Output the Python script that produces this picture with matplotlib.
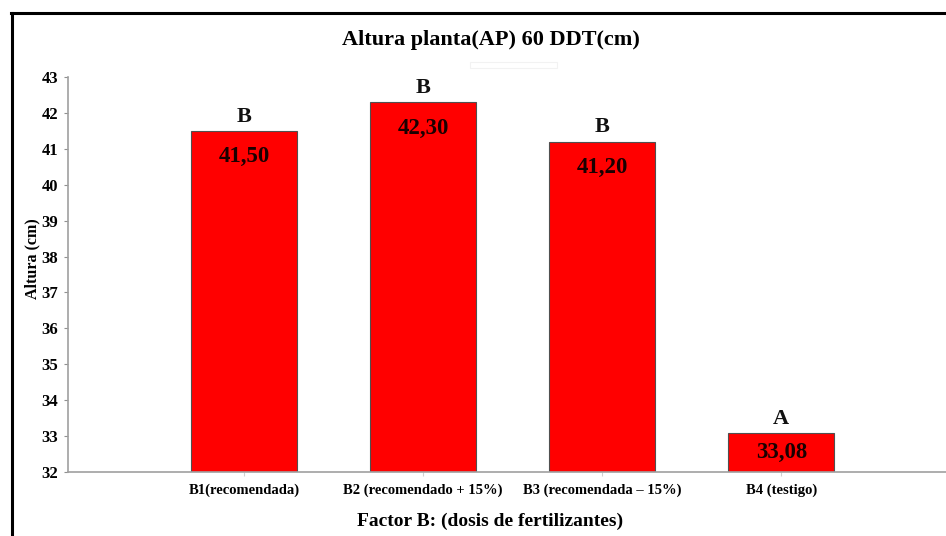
import matplotlib.pyplot as plt
from matplotlib.patches import Rectangle

# data
categorias = ['B1(recomendada)', 'B2 (recomendado + 15%)',
              'B3 (recomendada \u2013 15%)', 'B4 (testigo)']
altura = [41.50, 42.30, 41.20, 33.08]
letras = ['B', 'B', 'B', 'A']
ticks_y = [32, 33, 34, 35, 36, 37, 38, 39, 40, 41, 42, 43]

plt.rcParams['font.family'] = ['Liberation Serif', 'DejaVu Serif']
plt.rcParams['font.weight'] = 'bold'

fig = plt.figure(figsize=(9.46, 5.36), dpi=100)
ax = fig.add_axes([0.0719, 0.1194, 0.9281, 0.7369])

x = range(len(categorias))
bars = ax.bar(x, altura, width=0.592, color='#ff0000', edgecolor='#505050',
              linewidth=0.8)

ax.set_ylim(32, 43)
ax.set_xlim(-0.983, 3.92)
ax.set_yticks(ticks_y)
ax.set_yticklabels([str(t) for t in ticks_y], fontsize=12, fontweight='bold')
ax.set_xticks(list(x))
ax.set_xticklabels(categorias, fontsize=10.5, fontweight='bold')
ax.tick_params(axis='x', length=3, color='#d0d0d0', pad=5)
ax.tick_params(axis='y', length=3, color='#909090', pad=4)

for s in ['top', 'right']:
    ax.spines[s].set_visible(False)
for s in ['left', 'bottom']:
    ax.spines[s].set_color('#a0a0a0')
    ax.spines[s].set_linewidth(1.2)

# value labels inside the bars, letters above
for xi, v, l in zip(x, altura, letras):
    yv = max((32 + v) / 2, v - 0.72)
    ax.text(xi, yv, f'{v:.2f}'.replace('.', ','), ha='center', va='center',
            fontsize=16.5, fontweight='bold', color='#1a0000')
    ax.text(xi, v + 0.4, l, ha='center', va='center', fontsize=16,
            fontweight='bold', color='#111111')

ax.set_ylabel('Altura (cm)', fontsize=11.5, fontweight='bold')
ax.yaxis.set_label_coords(-0.031, 0.54)

fig.text(0.518, 0.028, 'Factor B: (dosis de fertilizantes)', ha='center',
         va='center', fontsize=14, fontweight='bold')
fig.text(0.519, 0.925, 'Altura planta(AP) 60 DDT(cm)', ha='center',
         va='center', fontsize=16, fontweight='bold')

# outer frame (left and top edges visible)
fig.add_artist(plt.Line2D([0.0127, 0.0127], [0.0, 0.975], transform=fig.transFigure,
                          color='black', linewidth=2.2))
fig.add_artist(plt.Line2D([0.0115, 1.0], [0.975, 0.975], transform=fig.transFigure,
                          color='black', linewidth=2.2))
fig.add_artist(Rectangle((0.497, 0.873), 0.092, 0.012, transform=fig.transFigure,
                         facecolor='white', edgecolor='#f2f2f2', linewidth=0.8))

fig.savefig('out.png', dpi=100)
